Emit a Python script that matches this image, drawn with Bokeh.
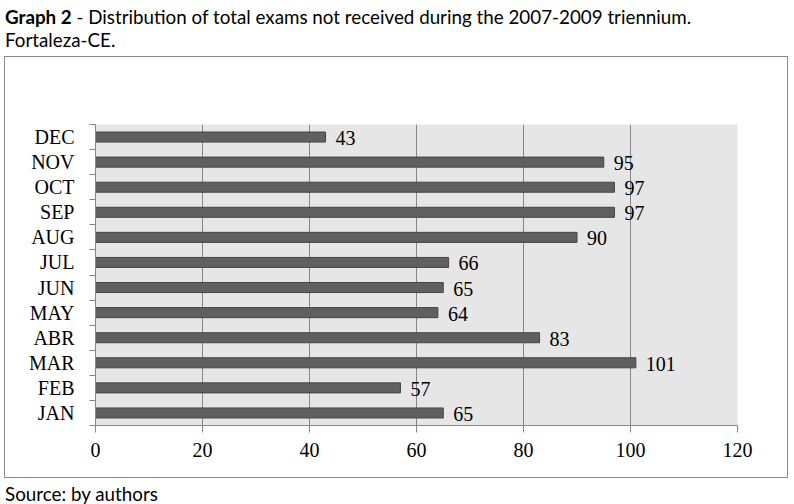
from bokeh.plotting import figure
from bokeh.models import Range1d, FixedTicker, Div, ColumnDataSource
from bokeh.layouts import column
from bokeh.core.properties import value
from bokeh.embed import file_html
from bokeh.resources import INLINE

months = ["JAN", "FEB", "MAR", "ABR", "MAY", "JUN", "JUL", "AUG", "SEP", "OCT", "NOV", "DEC"]
counts = [65, 57, 101, 83, 64, 65, 66, 90, 97, 97, 95, 43]
x_ticks = [0, 20, 40, 60, 80, 100, 120]

centers = [i + 0.5 for i in range(len(months))]
src = ColumnDataSource(dict(y=centers, v=counts, lab=[str(c) for c in counts]))

title = Div(
    text='<b>Graph 2</b> - Distribution of total exams not received during the 2007-2009 triennium.<br>Fortaleza-CE.',
    width=778, height=46,
    styles={"font-family": "Lato", "font-size": "18.8px", "line-height": "23px", "color": "black",
            "white-space": "nowrap"},
)

p = figure(width=784, height=422, x_range=Range1d(0, 120), y_range=Range1d(0, 12),
           output_backend="svg", toolbar_location=None,
           min_border_left=90, min_border_right=52, min_border_top=67, min_border_bottom=54,
           background_fill_color="#e6e6e6", border_fill_color="white", outline_line_color=None,
           margin=(0, 0, 0, 4),
           styles={"border": "1px solid #888888"})

p.hbar(y="y", right="v", left=0, height=0.4, source=src,
       fill_color="#606060", line_color="#454545", line_width=1)
p.text(x="v", y="y", text="lab", source=src, x_offset=10, y_offset=1,
       text_baseline="middle", text_align="left",
       text_font=value("Liberation Serif"), text_font_size="20px", text_color="black")

gray = "#868686"
p.xaxis.ticker = FixedTicker(ticks=x_ticks)
p.xaxis.axis_line_color = gray
p.xaxis.major_tick_line_color = gray
p.xaxis.major_tick_in = 0
p.xaxis.major_tick_out = 7
p.xaxis.minor_tick_line_color = None
p.xaxis.major_label_standoff = 10
p.xaxis.major_label_text_font = "Liberation Serif"
p.xaxis.major_label_text_font_size = "20px"
p.xaxis.major_label_text_color = "black"

p.yaxis.ticker = FixedTicker(ticks=centers, minor_ticks=list(range(len(months) + 1)))
p.yaxis.major_label_overrides = {c: m for c, m in zip(centers, months)}
p.yaxis.axis_line_color = gray
p.yaxis.major_tick_line_color = None
p.yaxis.major_tick_in = 0
p.yaxis.major_tick_out = 0
p.yaxis.minor_tick_line_color = gray
p.yaxis.minor_tick_in = 0
p.yaxis.minor_tick_out = 6
p.yaxis.major_label_standoff = 15
p.yaxis.major_label_text_font = "Liberation Serif"
p.yaxis.major_label_text_font_size = "20px"
p.yaxis.major_label_text_color = "black"

p.xgrid.ticker = FixedTicker(ticks=x_ticks)
p.xgrid.grid_line_color = gray
p.ygrid.visible = False

source_div = Div(text="Source: by authors", width=778, height=22,
                 styles={"font-family": "Lato", "font-size": "18.8px", "line-height": "22px", "color": "black"})

layout = column(title, p, source_div, spacing=0)
open("out.html", "w").write(file_html(layout, INLINE))
